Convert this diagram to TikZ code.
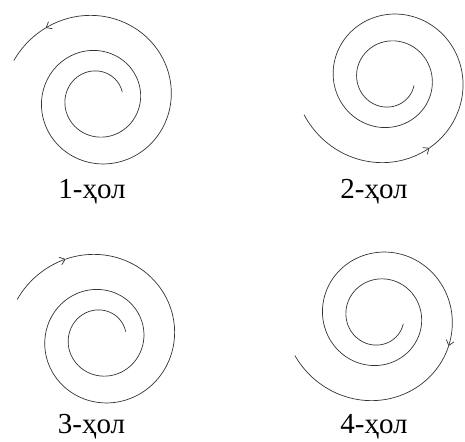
\documentclass[tikz,border=0pt]{standalone}
\usepackage{fontspec}
\setmainfont{Liberation Serif}
\usetikzlibrary{arrows.meta}
\tikzset{
  >={Straight Barb[length=5pt,width=8pt]},
  spiral/.style={draw=black!80, line width=0.7pt},
  lbl/.style={font=\fontsize{29}{32}\selectfont, anchor=base, inner sep=0pt},
}
\begin{document}
\begin{tikzpicture}[x=1pt, y=1pt, declare function={sprad(\t)=25*exp(0.0015*\t);}]
  \useasboundingbox (0,0) rectangle (465,441);

  \coordinate (c1) at (97.7,341.4);
  \coordinate (c2) at (389.4,362.6);
  \coordinate (c3) at (101,102.4);
  \coordinate (c4) at (378.7,124.6);

  % 1: outward, counterclockwise
  \draw[spiral, shift={(c1)}, ->] plot[smooth, samples=150, domain=17:846] (\x:{sprad(\x)});
  \draw[spiral, shift={(c1)}] plot[smooth, samples=10, domain=846:875] (\x:{sprad(\x)});

  % 2: inward
  \draw[spiral, shift={(c2)}, ->] plot[smooth, samples=30, domain=877:780] (-\x:{sprad(\x)});
  \draw[spiral, shift={(c2)}] plot[smooth, samples=150, domain=780:16] (-\x:{sprad(\x)});

  % 3: inward
  \draw[spiral, shift={(c3)}, ->] plot[smooth, samples=15, domain=875:834] (\x:{sprad(\x)});
  \draw[spiral, shift={(c3)}] plot[smooth, samples=150, domain=834:16] (\x:{sprad(\x)});

  % 4: outward, clockwise
  \draw[spiral, shift={(c4)}, ->] plot[smooth, samples=150, domain=17:743] (-\x:{sprad(\x)});
  \draw[spiral, shift={(c4)}] plot[smooth, samples=40, domain=743:875] (-\x:{sprad(\x)});

  \node[lbl] (l1) at (92,242) {1-ҳол};
  \node[lbl] (l2) at (374,242) {2-ҳол};
  \node[lbl] (l3) at (91.5,7.5) {3-ҳол};
  \node[lbl] (l4) at (374,7.5) {4-ҳол};
\end{tikzpicture}
\end{document}
